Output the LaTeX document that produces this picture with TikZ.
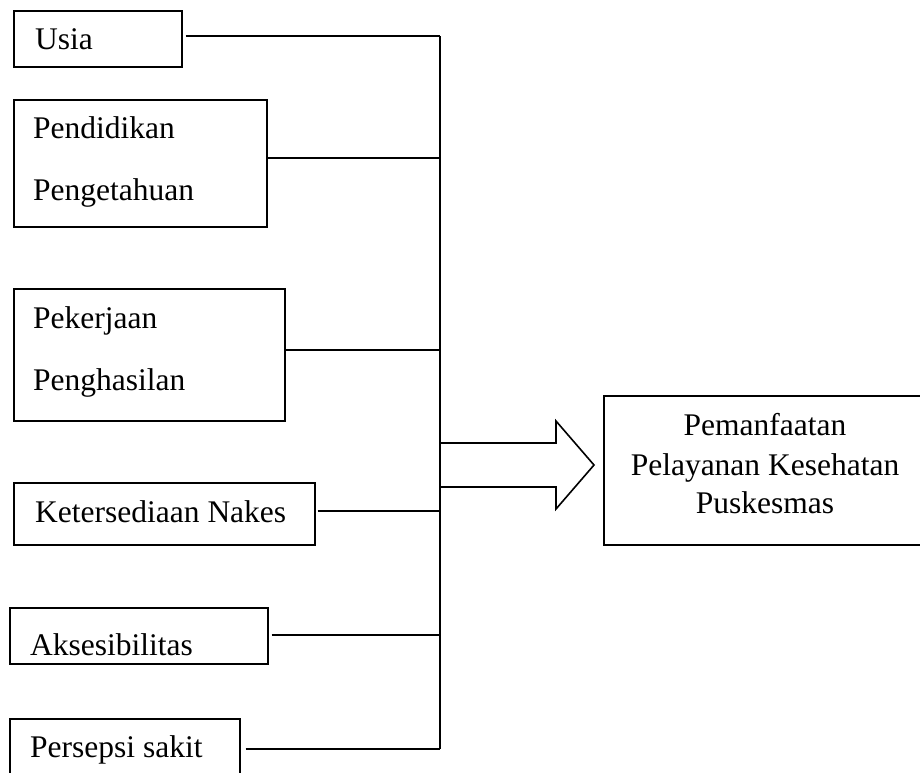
\documentclass[tikz,border=0pt]{standalone}
\usepackage{fontspec}
\setmainfont{Liberation Serif}
\begin{document}
\begin{tikzpicture}[x=1pt,y=-1pt,
  box/.style={draw,line width=1.6pt,rectangle,anchor=north west,inner sep=0pt},
  lbl/.style={anchor=base west,inner sep=0pt,font=\fontsize{31.5}{39}\selectfont},
  clbl/.style={anchor=base,inner sep=0pt,font=\fontsize{31.5}{39}\selectfont},
  conn/.style={line width=1.6pt}]
\useasboundingbox (0,0) rectangle (920,772);
\clip (0,0) rectangle (920,772);
% boxes
\node[box,minimum width=168pt,minimum height=56pt] (usia) at (13,10) {};
\node[box,minimum width=253pt,minimum height=127pt] (pend) at (13,99) {};
\node[box,minimum width=271pt,minimum height=132pt] (pek) at (13,288) {};
\node[box,minimum width=301pt,minimum height=62pt] (ket) at (13,482) {};
\node[box,minimum width=258pt,minimum height=56pt] (aks) at (9,607) {};
\node[box,minimum width=230pt,minimum height=80pt] (pers) at (9,718) {};
\node[box,minimum width=330pt,minimum height=149pt] (target) at (603,395) {};
% labels
\node[lbl] (tusia) at (35,49) {Usia};
\node[lbl] (tpend) at (33,138) {Pendidikan};
\node[lbl] (tpeng) at (33,200) {Pengetahuan};
\node[lbl] (tpek) at (33,328) {Pekerjaan};
\node[lbl] (tpengh) at (33,390) {Penghasilan};
\node[lbl] (tket) at (35,522) {Ketersediaan Nakes};
\node[lbl] (taks) at (30,655) {Aksesibilitas};
\node[lbl] (tpers) at (30,757) {Persepsi sakit};
\node[clbl] (t1) at (765,435) {Pemanfaatan};
\node[clbl] (t2) at (765,475) {Pelayanan Kesehatan};
\node[clbl] (t3) at (765,513) {Puskesmas};
% bus coordinates
\coordinate (bU) at (440,36);
\coordinate (bP) at (440,158);
\coordinate (bK) at (440,350);
\coordinate (bN) at (440,511);
\coordinate (bA) at (440,635);
\coordinate (bS) at (440,749);
% connectors
\draw[conn,shorten <=3pt] (usia.east |- bU) -- (bU);
\draw[conn] (pend.east |- bP) -- (bP);
\draw[conn] (pek.east |- bK) -- (bK);
\draw[conn,shorten <=2pt] (ket.east |- bN) -- (bN);
\draw[conn,shorten <=3pt] (aks.east |- bA) -- (bA);
\draw[conn,shorten <=5pt] (pers.east |- bS) -- (bS);
\draw[conn] (bU) -- (bS);
% block arrow
\coordinate (a1) at (440,443);
\coordinate (a2) at (556,443);
\coordinate (a3) at (556,421);
\coordinate (tip) at (594,465);
\coordinate (a5) at (556,509);
\coordinate (a6) at (556,487);
\coordinate (a7) at (440,487);
\draw[conn,line join=miter] (a1) -- (a2) -- (a3) -- (tip) -- (a5) -- (a6) -- (a7);
\end{tikzpicture}
\end{document}
